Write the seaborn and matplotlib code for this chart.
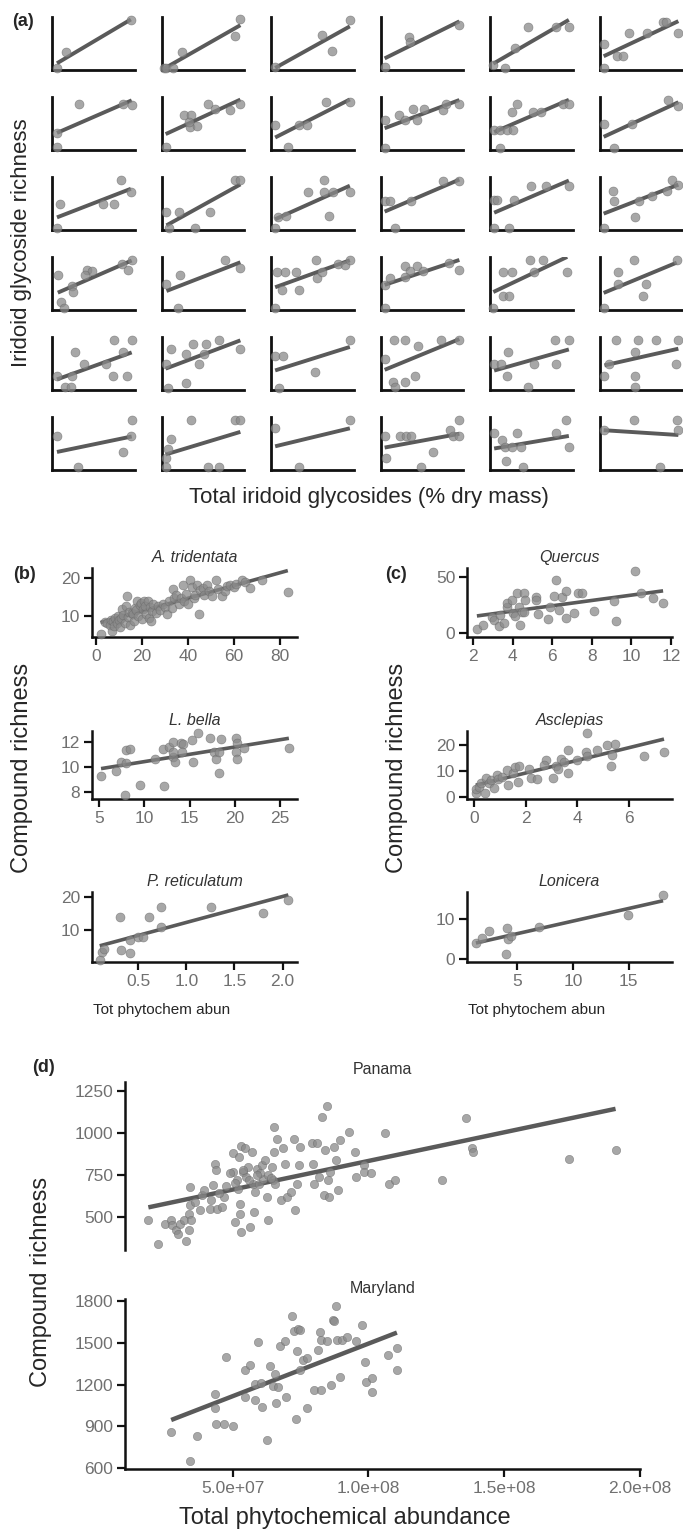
import matplotlib
matplotlib.use("Agg")
import matplotlib.pyplot as plt
import seaborn as sns
from matplotlib.ticker import FuncFormatter

# ---------------- Panel (a): 6 x 6 small panels (normalised axes, no ticks) -------------
row1_x = [[0.06, 0.17, 0.95],
          [0.03, 0.05, 0.14, 0.25, 0.88, 0.95],
          [0.05, 0.62, 0.73, 0.95],
          [0.05, 0.34, 0.36, 0.95],
          [0.04, 0.18, 0.30, 0.46, 0.79, 0.95],
          [0.05, 0.05, 0.21, 0.28, 0.35, 0.57, 0.77, 0.80, 0.95]]
row1_y = [[0.03, 0.34, 0.94],
          [0.04, 0.03, 0.03, 0.34, 0.64, 0.96],
          [0.06, 0.66, 0.36, 0.95],
          [0.06, 0.62, 0.52, 0.84],
          [0.09, 0.03, 0.42, 0.81, 0.81, 0.81],
          [0.49, 0.04, 0.26, 0.26, 0.70, 0.70, 0.91, 0.91, 0.70]]
row2_x = [[0.06, 0.06, 0.32, 0.86, 0.96],
          [0.05, 0.27, 0.35, 0.34, 0.43, 0.33, 0.56, 0.64, 0.83, 0.95],
          [0.05, 0.21, 0.34, 0.43, 0.66, 0.95],
          [0.05, 0.05, 0.22, 0.29, 0.39, 0.44, 0.52, 0.75, 0.79, 0.95],
          [0.05, 0.12, 0.20, 0.28, 0.12, 0.26, 0.32, 0.52, 0.61, 0.88, 0.95],
          [0.05, 0.17, 0.39, 0.83, 0.95]]
row2_y = [[0.33, 0.06, 0.86, 0.86, 0.84],
          [0.06, 0.66, 0.66, 0.44, 0.45, 0.53, 0.875, 0.78, 0.76, 0.86],
          [0.47, 0.05, 0.47, 0.47, 0.91, 0.91],
          [0.575, 0.04, 0.66, 0.56, 0.77, 0.56, 0.77, 0.76, 0.875, 0.875],
          [0.375, 0.375, 0.375, 0.375, 0.04, 0.71, 0.86, 0.71, 0.71, 0.875, 0.86],
          [0.49, 0.04, 0.49, 0.95, 0.825]]
row3_x = [[0.06, 0.10, 0.61, 0.75, 0.83, 0.95],
          [0.06, 0.21, 0.09, 0.40, 0.58, 0.88, 0.95],
          [0.05, 0.09, 0.18, 0.45, 0.64, 0.64, 0.75, 0.70, 0.95],
          [0.05, 0.12, 0.37, 0.17, 0.75, 0.95],
          [0.05, 0.09, 0.29, 0.05, 0.23, 0.49, 0.68, 0.95],
          [0.05, 0.16, 0.17, 0.43, 0.48, 0.63, 0.81, 0.87, 0.95]]
row3_y = [[0.04, 0.50, 0.50, 0.50, 0.95, 0.72],
          [0.34, 0.34, 0.04, 0.04, 0.34, 0.95, 0.95],
          [0.04, 0.25, 0.26, 0.72, 0.95, 0.72, 0.72, 0.26, 0.72],
          [0.54, 0.54, 0.54, 0.04, 0.92, 0.92],
          [0.56, 0.56, 0.56, 0.04, 0.04, 0.83, 0.83, 0.83],
          [0.04, 0.74, 0.54, 0.24, 0.54, 0.64, 0.74, 0.95, 0.84]]
row4_x = [[0.07, 0.11, 0.14, 0.24, 0.25, 0.42, 0.48, 0.40, 0.84, 0.91, 0.96],
          [0.06, 0.22, 0.20, 0.77, 0.95],
          [0.07, 0.17, 0.13, 0.05, 0.30, 0.34, 0.54, 0.55, 0.61, 0.81, 0.89, 0.95],
          [0.05, 0.12, 0.05, 0.29, 0.36, 0.44, 0.30, 0.51, 0.83, 0.95],
          [0.16, 0.26, 0.04, 0.16, 0.23, 0.48, 0.64, 0.53, 0.93],
          [0.05, 0.22, 0.22, 0.41, 0.56, 0.52, 0.93]]
row4_y = [[0.66, 0.16, 0.04, 0.45, 0.34, 0.75, 0.74, 0.66, 0.86, 0.75, 0.95],
          [0.50, 0.66, 0.04, 0.95, 0.80],
          [0.72, 0.72, 0.375, 0.04, 0.72, 0.375, 0.95, 0.61, 0.72, 0.86, 0.84, 0.94],
          [0.47, 0.61, 0.04, 0.83, 0.74, 0.83, 0.62, 0.74, 0.89, 0.75],
          [0.72, 0.72, 0.04, 0.26, 0.26, 0.95, 0.95, 0.72, 0.72],
          [0.04, 0.72, 0.50, 0.95, 0.50, 0.26, 0.95]]
row5_x = [[0.06, 0.16, 0.23, 0.24, 0.28, 0.38, 0.65, 0.75, 0.73, 0.86, 0.90, 0.96],
          [0.05, 0.11, 0.08, 0.29, 0.30, 0.38, 0.45, 0.54, 0.51, 0.69, 0.95],
          [0.05, 0.15, 0.10, 0.53, 0.95],
          [0.05, 0.16, 0.29, 0.45, 0.15, 0.18, 0.30, 0.41, 0.73, 0.95],
          [0.05, 0.13, 0.22, 0.20, 0.46, 0.53, 0.78, 0.79, 0.95],
          [0.06, 0.12, 0.20, 0.43, 0.43, 0.43, 0.46, 0.68, 0.92, 0.95]]
row5_y = [[0.27, 0.05, 0.05, 0.27, 0.72, 0.49, 0.49, 0.95, 0.27, 0.72, 0.27, 0.95],
          [0.49, 0.77, 0.03, 0.125, 0.67, 0.86, 0.49, 0.86, 0.67, 0.95, 0.77],
          [0.64, 0.64, 0.03, 0.34, 0.95],
          [0.59, 0.95, 0.95, 0.83, 0.16, 0.05, 0.16, 0.27, 0.95, 0.94],
          [0.49, 0.49, 0.72, 0.27, 0.05, 0.50, 0.95, 0.50, 0.95],
          [0.27, 0.49, 0.95, 0.72, 0.27, 0.05, 0.95, 0.95, 0.49, 0.95]]
row6_x = [[0.06, 0.31, 0.85, 0.95, 0.96],
          [0.05, 0.06, 0.11, 0.08, 0.35, 0.56, 0.69, 0.88, 0.95],
          [0.05, 0.34, 0.95],
          [0.05, 0.07, 0.23, 0.31, 0.37, 0.49, 0.63, 0.84, 0.87, 0.95, 0.95],
          [0.05, 0.15, 0.19, 0.18, 0.26, 0.33, 0.37, 0.40, 0.80, 0.92, 0.95],
          [0.05, 0.42, 0.73, 0.93, 0.95]]
row6_y = [[0.64, 0.05, 0.34, 0.64, 0.95],
          [0.22, 0.05, 0.58, 0.39, 0.95, 0.05, 0.05, 0.95, 0.95],
          [0.79, 0.05, 0.95],
          [0.64, 0.23, 0.64, 0.64, 0.64, 0.05, 0.34, 0.75, 0.64, 0.95, 0.64],
          [0.70, 0.56, 0.17, 0.425, 0.425, 0.70, 0.425, 0.05, 0.70, 0.95, 0.425],
          [0.76, 0.95, 0.05, 0.95, 0.76]]

# ---------------- Panel (b) ----------------
trid_x = [2, 4, 5, 6, 6.5, 7, 7.5, 8, 8.5, 9, 9.5, 10, 10.5, 11, 11.5, 12, 12.5, 13, 13.5, 14,
          14.5, 15, 15.5, 16, 16.5, 17, 17.5, 18, 18.5, 19, 19.5, 20, 20.5, 21, 21.5, 22, 22.5,
          23, 23.5, 24, 24.5, 25, 26, 27, 28, 29, 30, 31, 32, 33, 33.5, 34, 35, 36, 37, 38,
          38.5, 39, 40, 41, 42, 42.5, 43, 44, 45, 45.5, 46.8, 47, 48.2, 49, 50.7, 52.2, 53,
          54.8, 56, 57, 58.4, 60, 61, 63.5, 65, 66.9, 72.3, 83.5]
trid_y = [5.3, 8.4, 8.0, 7.6, 9.0, 6.0, 8.5, 7.2, 9.3, 8.0, 10.0, 8.8, 7.1, 9.5, 11.8, 10.3,
          8.2, 12.5, 15.3, 9.8, 11.0, 7.5, 10.8, 10.4, 8.6, 12.0, 11.5, 14.0, 10.0, 12.8, 13.5,
          9.2, 11.8, 14.0, 12.5, 10.5, 13.8, 9.3, 12.2, 8.6, 11.2, 13.0, 10.8, 12.5, 11.6,
          13.2, 12.2, 10.4, 13.8, 12.0, 17.1, 14.8, 15.6, 13.2, 14.6, 18.2, 13.8, 15.8, 13.0,
          19.4, 17.6, 14.8, 15.5, 18.0, 10.4, 16.8, 17.3, 15.6, 18.2, 16.5, 15.1, 19.4, 17.0,
          15.1, 16.5, 17.8, 18.2, 17.5, 18.5, 19.4, 18.8, 17.3, 19.4, 16.2]
bella_x = [5.2, 6.9, 7.4, 8.0, 7.8, 8.0, 8.4, 9.5, 11.2, 12.1, 12.2, 12.7, 13.2, 13.2, 13.2,
           13.4, 14.0, 14.3, 14.2, 15.3, 15.4, 15.9, 17.3, 17.7, 17.9, 18.3, 18.5, 18.3, 20.2,
           20.3, 20.2, 20.3, 21.0, 26.0]
bella_y = [9.26, 9.69, 10.4, 10.3, 7.8, 11.36, 11.44, 8.6, 10.6, 11.4, 8.46, 11.6, 12.0, 10.8,
           11.2, 10.4, 11.9, 11.8, 11.2, 12.1, 10.4, 12.7, 12.3, 11.2, 10.6, 11.2, 12.2, 9.56,
           12.3, 11.9, 11.15, 10.6, 11.5, 11.5]
retic_x = [0.10, 0.12, 0.14, 0.31, 0.32, 0.41, 0.41, 0.50, 0.55, 0.61, 0.74, 0.74, 1.26, 1.80, 2.06]
retic_y = [0.9, 3.3, 4.3, 14.0, 4.0, 7.0, 3.0, 7.9, 7.9, 14.0, 17.0, 10.9, 17.0, 15.2, 19.0]

# ---------------- Panel (c) ----------------
querc_x = [2.2, 2.5, 2.95, 3.05, 3.3, 3.35, 3.55, 3.7, 3.7, 3.95, 4.2, 4.0, 4.1, 4.35, 4.4,
           4.5, 4.6, 4.65, 4.6, 5.2, 5.3, 5.2, 5.8, 5.9, 6.1, 6.2, 6.35, 6.5, 6.7, 6.7, 7.1,
           7.3, 7.5, 8.1, 9.1, 9.2, 10.2, 10.5, 11.1, 11.6]
querc_y = [3.5, 7.4, 14.7, 11.8, 6.5, 16.2, 8.8, 22.9, 26.5, 29.4, 35.9, 17.6, 15.3, 22.9,
           7.4, 19.1, 35.3, 29.4, 19.1, 32.4, 17.0, 29.4, 12.4, 23.5, 32.9, 47.0, 20.6, 32.4,
           37.4, 13.2, 17.6, 35.3, 35.9, 19.7, 28.8, 10.3, 55.3, 35.9, 30.9, 27.0]
ascl_x = [0.07, 0.09, 0.20, 0.26, 0.43, 0.46, 0.59, 0.65, 0.78, 0.89, 0.95, 1.10, 1.28, 1.30,
          1.50, 1.60, 1.69, 1.76, 2.15, 2.20, 2.43, 2.80, 2.70, 3.06, 3.16, 3.25, 3.38, 3.48,
          3.65, 3.65, 4.00, 4.34, 4.39, 4.36, 4.75, 5.17, 5.47, 5.30, 5.34, 6.58, 7.36]
ascl_y = [1.7, 2.9, 3.9, 5.2, 1.6, 7.1, 5.2, 6.5, 3.6, 8.4, 6.8, 7.5, 10.4, 4.5, 9.4, 11.7,
          5.8, 11.9, 10.6, 7.1, 6.75, 14.3, 12.3, 7.1, 11.9, 10.6, 14.5, 13.6, 18.2, 9.4, 14.3,
          17.5, 24.7, 15.8, 17.9, 20.1, 20.5, 11.9, 16.2, 15.8, 17.4]
lonic_x = [1.3, 1.85, 2.45, 4.1, 4.0, 4.16, 4.46, 6.95, 14.97, 18.1]
lonic_y = [3.9, 5.2, 7.1, 7.7, 1.35, 4.9, 5.8, 8.0, 11.0, 16.1]

# ---------------- Panel (d) ----------------
pan_x = [1.90, 2.26, 2.50, 2.74, 2.77, 2.90, 2.98, 3.06, 3.20, 3.30, 3.40, 3.40, 3.47, 3.42,
         3.44, 3.63, 3.80, 3.87, 3.95, 4.16, 4.19, 4.27, 4.35, 4.40, 4.44, 4.60, 4.68, 4.76,
         5.00, 5.03, 5.08, 5.16, 5.20, 5.24, 5.29, 5.32, 5.29, 5.32, 5.37, 5.45, 5.50, 5.56,
         5.65, 5.73, 5.77, 5.80, 5.84, 5.89, 5.97, 6.10, 6.13, 6.20, 6.26, 6.29, 6.32, 6.45,
         6.48, 6.53, 6.53, 6.58, 6.65, 6.77, 6.85, 6.94, 7.00, 7.14, 7.26, 7.29, 7.39, 7.45,
         7.50, 7.94, 7.95, 7.98, 8.10, 8.20, 8.30, 8.35, 8.42, 8.47, 8.52, 8.55, 8.58, 8.74,
         8.79, 8.90, 8.95, 9.27, 9.52, 9.55, 9.84, 9.84, 10.08, 10.60, 10.77, 10.97, 12.70,
         13.60, 13.80, 13.85, 17.40, 19.10, 4.90, 5.40, 5.60, 6.00, 4.50, 5.10, 5.90, 6.40]
pan_y = [484, 341, 456, 480, 450, 420, 400, 456, 480, 357, 424, 520, 480, 570, 679, 590, 544,
         629, 659, 550, 600, 689, 818, 782, 550, 560, 619, 683, 769, 882, 470, 719, 669, 858,
         516, 410, 580, 922, 769, 908, 739, 798, 440, 888, 699, 530, 649, 788, 699, 808, 729,
         838, 619, 480, 749, 798, 719, 1037, 888, 699, 967, 600, 908, 818, 619, 649, 967, 540,
         699, 808, 918, 938, 818, 699, 938, 739, 1097, 629, 898, 1160, 719, 619, 769, 918, 838,
         663, 958, 1007, 888, 739, 808, 769, 759, 997, 699, 719, 723, 1087, 908, 888, 844, 898,
         760, 780, 720, 760, 640, 700, 750, 730]
mary_x = [2.74, 3.42, 3.68, 4.35, 4.35, 4.39, 4.68, 4.76, 5.03, 5.45, 5.45, 5.65, 5.84, 5.84,
          5.94, 6.06, 6.10, 6.26, 6.37, 6.48, 6.58, 6.61, 6.69, 6.74, 6.94, 6.98, 7.18, 7.26,
          7.34, 7.39, 7.42, 7.50, 7.50, 7.61, 7.74, 7.74, 7.98, 8.15, 8.23, 8.26, 8.27, 8.47,
          8.63, 8.68, 8.74, 8.82, 8.84, 8.95, 9.03, 9.23, 9.55, 9.76, 9.87, 9.92, 10.13, 10.13,
          10.73, 11.05, 11.05]
mary_y = [856, 650, 832, 1129, 1031, 914, 914, 1398, 902, 1110, 1302, 1343, 1091, 1206, 1505,
          1211, 1038, 799, 1331, 1187, 1273, 1067, 1182, 1474, 1513, 1110, 1690, 1582, 954,
          1438, 1601, 1589, 1302, 1374, 1393, 1034, 1158, 1450, 1577, 1158, 1517, 1510, 1194,
          1666, 1656, 1762, 1517, 1254, 1522, 1541, 1510, 1625, 1362, 1218, 1249, 1146, 1410,
          1462, 1307]
ABUND_UNIT = 1e7  # pan_x / mary_x are in units of 1e7

# ---------------- style ----------------
sns.set_theme(style="ticks")
plt.rcParams['font.family'] = ['Liberation Sans', 'DejaVu Sans']

W, H = 683, 1532
fig = plt.figure(figsize=(W / 100, H / 100), dpi=100)

PT_COL = '#8a8a8a'
LN_COL = '#5a5a5a'
TICK_COL = '#707070'


def add_ax(left, top, width, height):
    return fig.add_axes([left / W, 1 - (top + height) / H, width / W, height / H])


def ftext(x, y, s, **kw):
    fig.text(x / W, 1 - y / H, s, **kw)


def reg(ax, x, y, s=42, lw=2.6):
    sns.regplot(x=x, y=y, ax=ax, ci=None, truncate=True,
                scatter_kws=dict(s=s, color=PT_COL, alpha=0.75, edgecolor='#6a6a6a',
                                 linewidths=0.4, zorder=3, clip_on=False),
                line_kws=dict(color=LN_COL, lw=lw, zorder=2, solid_capstyle='butt'))
    ax.set_xlabel('')
    ax.set_ylabel('')


def style_ax(ax, spine_w=1.8, labelsize=12.5):
    sns.despine(ax=ax)
    for sp in ('left', 'bottom'):
        ax.spines[sp].set_linewidth(spine_w)
        ax.spines[sp].set_color('#111111')
    ax.tick_params(axis='both', colors='#111111', labelcolor=TICK_COL, length=6,
                   width=1.6, labelsize=labelsize, pad=2.5)


# ---------------- Panel (a) ----------------
rows_x = [row1_x, row2_x, row3_x, row4_x, row5_x, row6_x]
rows_y = [row1_y, row2_y, row3_y, row4_y, row5_y, row6_y]
for r in range(6):
    for c in range(6):
        ax = add_ax(52 + c * 109.5, 17 + r * 80, 83, 53)
        reg(ax, rows_x[r][c], rows_y[r][c], s=42, lw=2.8)
        ax.set_xlim(0, 1)
        ax.set_ylim(0, 1)
        sns.despine(ax=ax)
        for sp in ('left', 'bottom'):
            ax.spines[sp].set_linewidth(2.0)
            ax.spines[sp].set_color('#111111')
        ax.set_xticks([])
        ax.set_yticks([])

ftext(12, 22, '(a)', fontsize=13, fontweight='bold', va='center', ha='left')
ftext(22, 243, 'Iridoid glycoside richness', fontsize=16, rotation=90, va='center', ha='center')
ftext(369, 497, 'Total iridoid glycosides (% dry mass)', fontsize=16, va='center', ha='center')

# ---------------- Panels (b) and (c) ----------------
small = [
    (92, 568, 69, trid_x, trid_y, 'A. tridentata', (-1.7, 87.5), (4.4, 22.6), [0, 20, 40, 60, 80], [10, 20]),
    (92, 731, 68, bella_x, bella_y, 'L. bella', (4.2, 26.9), (7.46, 12.85), [5, 10, 15, 20, 25], [8, 10, 12]),
    (92, 892, 70, retic_x, retic_y, 'P. reticulatum', (0.02, 2.15), (0.3, 21.5), [0.5, 1.0, 1.5, 2.0], [10, 20]),
    (467, 568, 69, querc_x, querc_y, 'Quercus', (1.7, 12.05), (-3.6, 58), [2, 4, 6, 8, 10, 12], [0, 50]),
    (467, 731, 68, ascl_x, ascl_y, 'Asclepias', (-0.27, 7.67), (-0.8, 25.4), [0, 2, 4, 6], [0, 10, 20]),
    (467, 892, 70, lonic_x, lonic_y, 'Lonicera', (0.5, 18.9), (-0.75, 16.75), [5, 10, 15], [0, 10]),
]
for left, top, h, xs, ys, title, xl, yl, xt, yt in small:
    ax = add_ax(left, top, 205, h)
    reg(ax, xs, ys, s=42, lw=2.6)
    ax.set_xlim(*xl)
    ax.set_ylim(*yl)
    ax.set_xticks(xt)
    ax.set_yticks(yt)
    style_ax(ax)
    ax.set_title(title, fontsize=11.5, style='italic', color='#333333', pad=4)

ftext(13, 575, '(b)', fontsize=13, fontweight='bold', va='center', ha='left')
ftext(385, 575, '(c)', fontsize=13, fontweight='bold', va='center', ha='left')
ftext(22, 768, 'Compound richness', fontsize=17, rotation=90, va='center', ha='center')
ftext(397, 768, 'Compound richness', fontsize=17, rotation=90, va='center', ha='center')
ftext(162, 1010, 'Tot phytochem abun', fontsize=11, va='center', ha='center')
ftext(537, 1010, 'Tot phytochem abun', fontsize=11, va='center', ha='center')

# ---------------- Panel (d) ----------------
xlim_d = (1.04e7, 2.0e8)
axp = add_ax(125, 1082, 515, 168)
reg(axp, [v * ABUND_UNIT for v in pan_x], pan_y, s=36, lw=3.2)
axp.set_xlim(*xlim_d)
axp.set_ylim(304, 1303)
axp.set_yticks([500, 750, 1000, 1250])
style_ax(axp)
axp.spines['bottom'].set_visible(False)
axp.set_xticks([])
axp.set_title('Panama', fontsize=11.5, color='#333333', pad=6)

axm = add_ax(125, 1299, 515, 170)
reg(axm, [v * ABUND_UNIT for v in mary_x], mary_y, s=36, lw=3.2)
axm.set_xlim(*xlim_d)
axm.set_ylim(593, 1815)
axm.set_yticks([600, 900, 1200, 1500, 1800])
axm.set_xticks([5e7, 1e8, 1.5e8, 2e8])
axm.xaxis.set_major_formatter(FuncFormatter(lambda v, p: f"{v:.1e}"))
style_ax(axm)
axm.set_title('Maryland', fontsize=11.5, color='#333333', pad=4)

ftext(32, 1068, '(d)', fontsize=13, fontweight='bold', va='center', ha='left')
ftext(41, 1282, 'Compound richness', fontsize=17, rotation=90, va='center', ha='center')
ftext(345, 1518, 'Total phytochemical abundance', fontsize=17, va='center', ha='center')

fig.savefig('out.png', dpi=100)
